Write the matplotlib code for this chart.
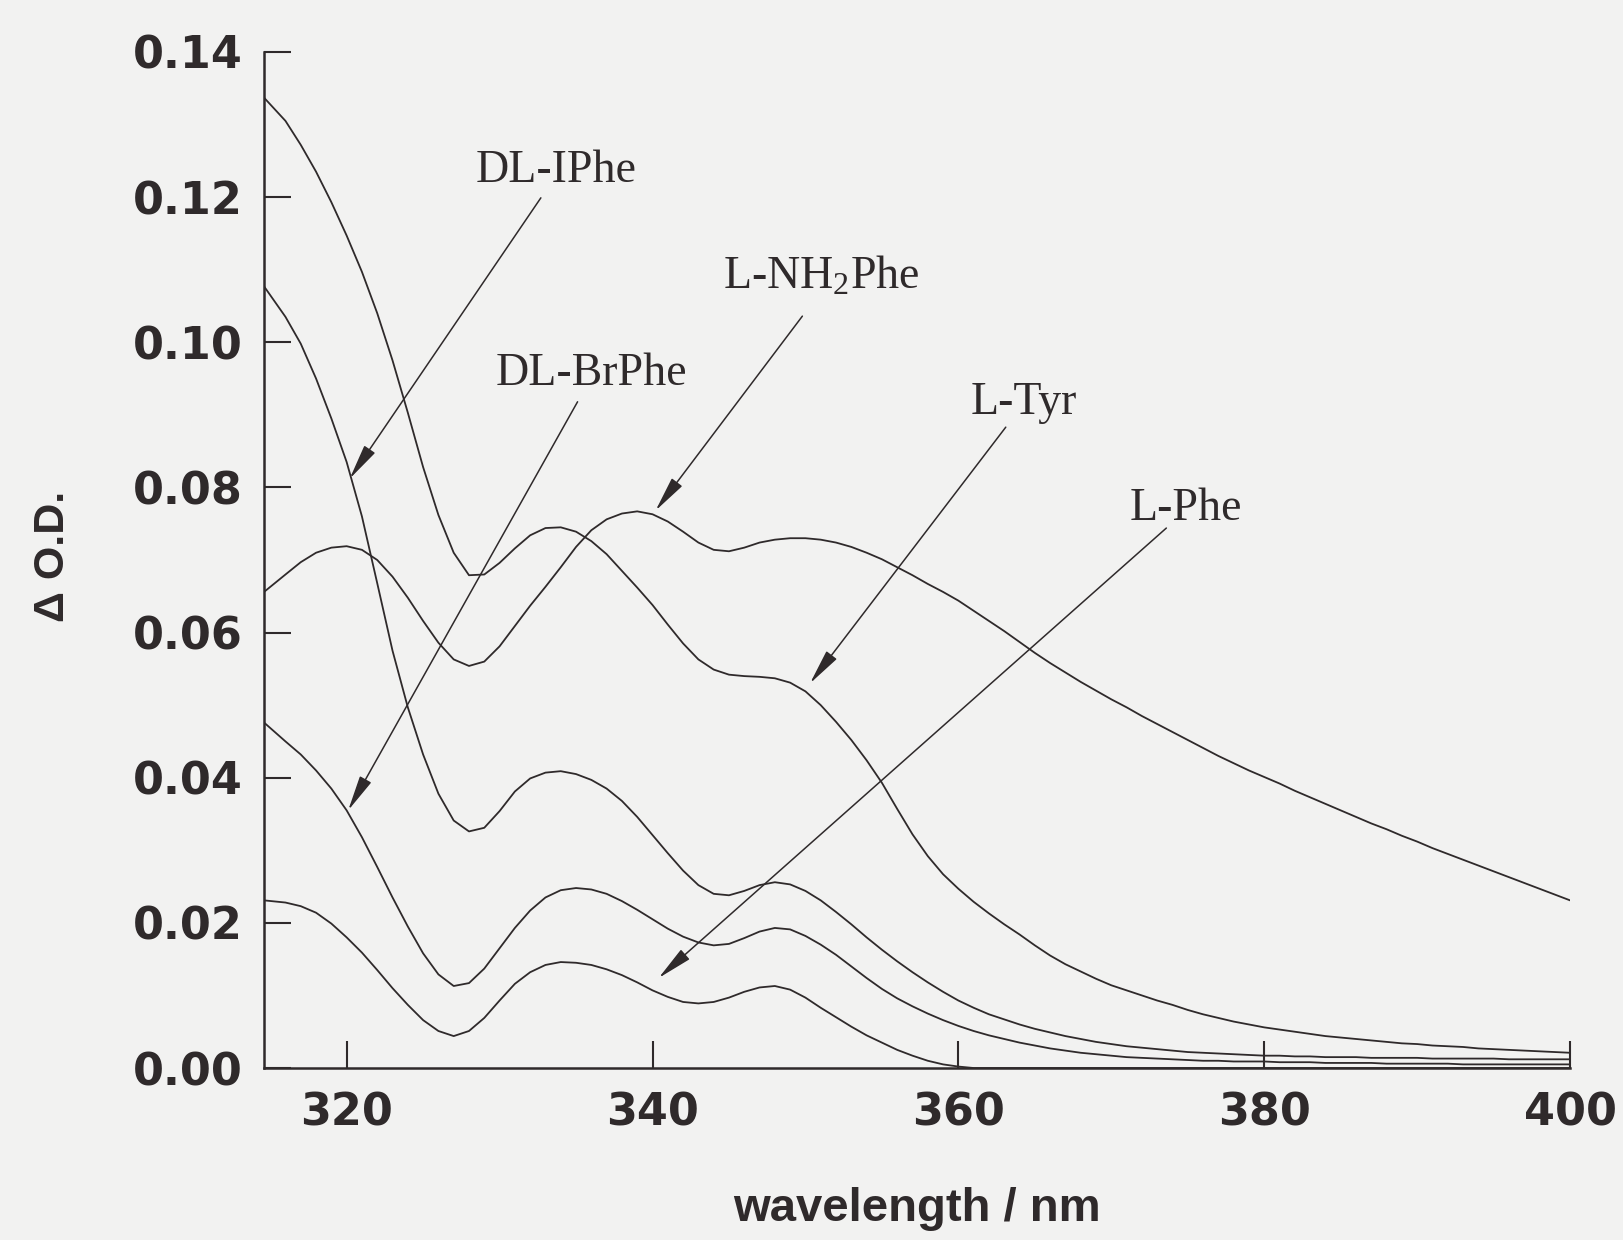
import numpy as np
import matplotlib
matplotlib.use("Agg")
import matplotlib.pyplot as plt

plt.rcParams['mathtext.fontset'] = 'custom'
plt.rcParams['mathtext.rm'] = 'Liberation Serif'
plt.rcParams['mathtext.it'] = 'Liberation Serif:italic'

# ---------------- data ----------------
wavelength = [314.6] + list(range(316, 401))

l_tyr = [0.1337, 0.1305, 0.1272, 0.1235, 0.1193, 0.1147, 0.1097, 0.1040, 0.0975, 0.0903,
         0.0828, 0.0762, 0.0710, 0.0679, 0.0680, 0.0696, 0.0716, 0.0734, 0.0744, 0.0745,
         0.0739, 0.0726, 0.0708, 0.0685, 0.0662, 0.0638, 0.0611, 0.0585, 0.0563, 0.0549,
         0.0542, 0.0540, 0.0539, 0.0537, 0.0531, 0.0519, 0.0500, 0.0477, 0.0452, 0.0424,
         0.0393, 0.0357, 0.0322, 0.0292, 0.0267, 0.0247, 0.0229, 0.0213, 0.0198, 0.0184,
         0.0169, 0.0155, 0.0143, 0.0133, 0.0123, 0.0114, 0.0107, 0.0100, 0.0093, 0.0087,
         0.0080, 0.0074, 0.0069, 0.0064, 0.0060, 0.0056, 0.0053, 0.0050, 0.0047, 0.0044,
         0.0042, 0.0040, 0.0038, 0.0036, 0.0034, 0.0033, 0.0031, 0.0030, 0.0029, 0.0027,
         0.0026, 0.0025, 0.0024, 0.0023, 0.0022, 0.0021]

dl_iphe = [0.1077, 0.1035, 0.0998, 0.0950, 0.0895, 0.0835, 0.0760, 0.0668, 0.0575, 0.0497,
           0.0432, 0.0378, 0.0341, 0.0326, 0.0331, 0.0354, 0.0381, 0.0399, 0.0407, 0.0409,
           0.0405, 0.0397, 0.0385, 0.0368, 0.0346, 0.0321, 0.0296, 0.0272, 0.0252, 0.0240,
           0.0238, 0.0244, 0.0252, 0.0256, 0.0253, 0.0244, 0.0231, 0.0215, 0.0198, 0.0180,
           0.0163, 0.0147, 0.0132, 0.0118, 0.0105, 0.0093, 0.0083, 0.0074, 0.0067, 0.0060,
           0.0054, 0.0049, 0.0044, 0.0040, 0.0036, 0.0033, 0.0030, 0.0028, 0.0026, 0.0024,
           0.0022, 0.0021, 0.0020, 0.0019, 0.0018, 0.0017, 0.0017, 0.0016, 0.0016, 0.0015,
           0.0015, 0.0015, 0.0014, 0.0014, 0.0014, 0.0014, 0.0013, 0.0013, 0.0013, 0.0013,
           0.0013, 0.0012, 0.0012, 0.0012, 0.0012, 0.0012]

l_nh2phe = [0.0656, 0.0680, 0.0697, 0.0710, 0.0717, 0.0719, 0.0714, 0.0700, 0.0677, 0.0648,
            0.0616, 0.0586, 0.0563, 0.0554, 0.0560, 0.0581, 0.0609, 0.0637, 0.0663, 0.0690,
            0.0718, 0.0741, 0.0756, 0.0764, 0.0767, 0.0763, 0.0753, 0.0739, 0.0724, 0.0714,
            0.0712, 0.0717, 0.0724, 0.0728, 0.0730, 0.0730, 0.0728, 0.0724, 0.0718, 0.0710,
            0.0701, 0.0690, 0.0679, 0.0667, 0.0656, 0.0644, 0.0630, 0.0616, 0.0602, 0.0587,
            0.0572, 0.0558, 0.0545, 0.0532, 0.0520, 0.0508, 0.0497, 0.0485, 0.0474, 0.0463,
            0.0452, 0.0441, 0.0430, 0.0420, 0.0410, 0.0401, 0.0392, 0.0382, 0.0373, 0.0364,
            0.0355, 0.0346, 0.0337, 0.0329, 0.0320, 0.0312, 0.0303, 0.0295, 0.0287, 0.0279,
            0.0271, 0.0263, 0.0255, 0.0247, 0.0239, 0.0231]

dl_brphe = [0.0476, 0.0450, 0.0432, 0.0410, 0.0385, 0.0355, 0.0318, 0.0277, 0.0235, 0.0195,
            0.0158, 0.0129, 0.0113, 0.0117, 0.0137, 0.0165, 0.0193, 0.0217, 0.0235, 0.0245,
            0.0248, 0.0246, 0.0240, 0.0230, 0.0218, 0.0205, 0.0192, 0.0181, 0.0173, 0.0169,
            0.0171, 0.0179, 0.0188, 0.0193, 0.0191, 0.0182, 0.0170, 0.0156, 0.0140, 0.0124,
            0.0109, 0.0096, 0.0085, 0.0075, 0.0066, 0.0058, 0.0051, 0.0045, 0.0040, 0.0035,
            0.0031, 0.0027, 0.0024, 0.0021, 0.0019, 0.0017, 0.0015, 0.0014, 0.0013, 0.0012,
            0.0011, 0.0010, 0.0010, 0.0009, 0.0009, 0.0009, 0.0008, 0.0008, 0.0008, 0.0007,
            0.0007, 0.0007, 0.0007, 0.0006, 0.0006, 0.0006, 0.0006, 0.0006, 0.0005, 0.0005,
            0.0005, 0.0005, 0.0005, 0.0005, 0.0005, 0.0005]

l_phe = [0.0231, 0.0228, 0.0223, 0.0214, 0.0199, 0.0180, 0.0159, 0.0135, 0.0110, 0.0087,
         0.0066, 0.0051, 0.0044, 0.0051, 0.0069, 0.0093, 0.0116, 0.0132, 0.0142, 0.0146,
         0.0145, 0.0142, 0.0136, 0.0128, 0.0118, 0.0107, 0.0098, 0.0091, 0.0089, 0.0091,
         0.0097, 0.0105, 0.0111, 0.0113, 0.0108, 0.0097, 0.0083, 0.0070, 0.0057, 0.0045,
         0.0035, 0.0025, 0.0017, 0.0010, 0.0005, 0.0002, 0.0000, 0.0000, 0.0000, 0.0000,
         0.0000, 0.0000, 0.0000, 0.0000, 0.0000, 0.0000, 0.0000, 0.0000, 0.0000, 0.0000,
         0.0000, 0.0000, 0.0000, 0.0000, 0.0000, 0.0000, 0.0000, 0.0000, 0.0000, 0.0000,
         0.0000, 0.0000, 0.0000, 0.0000, 0.0000, 0.0000, 0.0000, 0.0000, 0.0000, 0.0000,
         0.0000, 0.0000, 0.0000, 0.0000, 0.0000, 0.0000]

series = [l_tyr, dl_iphe, l_nh2phe, dl_brphe, l_phe]

# annotation labels: text position, arrow start, arrow tip (data coords)
labels = ['DL-IPhe', 'DL-BrPhe', 'L-NH$_2$Phe', 'L-Tyr', 'L-Phe']
label_xy = [(333.7, 0.1236), (336.0, 0.0956), (351.0, 0.1090), (364.3, 0.0917), (374.9, 0.0770)]
arrow_from = [(332.7, 0.1199), (335.1, 0.0918), (349.8, 0.1036), (363.1, 0.0883), (373.6, 0.0744)]
arrow_to = [(320.2, 0.0812), (320.1, 0.0355), (340.2, 0.0768), (350.3, 0.0530), (340.4, 0.0124)]

xticks = [320, 340, 360, 380, 400]
yticks = [0.00, 0.02, 0.04, 0.06, 0.08, 0.10, 0.12, 0.14]

# ---------------- figure ----------------
bg = '#f2f2f1'
ink = '#2f2a2b'
fig = plt.figure(figsize=(16.24, 12.40), dpi=100, facecolor=bg)
ax = fig.add_axes([0.1626, 0.1387, 0.8042, 0.8194], facecolor=bg)

for s in series:
    ax.plot(wavelength, s, color=ink, lw=1.3)

for lab, txy, a0, a1 in zip(labels, label_xy, arrow_from, arrow_to):
    ax.text(txy[0], txy[1], lab, ha='center', va='center', fontsize=33,
            family='Liberation Serif', color=ink)
    ax.annotate('', xy=a1, xytext=a0,
                arrowprops=dict(arrowstyle='-|>,head_length=1.1,head_width=0.2',
                                mutation_scale=20, lw=1.1, color=ink,
                                shrinkA=0, shrinkB=0))

ax.set_xlim(314.6, 400)
ax.set_ylim(0, 0.14)
ax.set_xticks(xticks)
ax.set_yticks(yticks)
ax.set_xticklabels([str(v) for v in xticks])
ax.set_yticklabels([f'{v:.2f}' for v in yticks])

for sp in ['top', 'right']:
    ax.spines[sp].set_visible(False)
for sp in ['left', 'bottom']:
    ax.spines[sp].set_linewidth(1.8)
    ax.spines[sp].set_color(ink)

ax.tick_params(axis='both', direction='in', length=19.5, width=1.5, color=ink,
               labelcolor=ink)
ax.tick_params(axis='y', pad=15)
ax.tick_params(axis='x', pad=17)
for t in ax.get_xticklabels() + ax.get_yticklabels():
    t.set_fontfamily('DejaVu Sans')
    t.set_fontweight('bold')
    t.set_fontsize(32)

ax.set_xlabel('wavelength / nm', family='Liberation Sans', fontweight='bold',
              fontsize=34, color=ink, va='baseline')
ax.xaxis.set_label_coords(0.5, -0.151)
ax.set_ylabel('Δ O.D.', family='Liberation Sans', fontweight='bold',
              fontsize=31, color=ink, va='center', ha='center')
ax.yaxis.set_label_coords(-0.1616, 0.504)

fig.savefig('out.png', dpi=100, facecolor=bg)
